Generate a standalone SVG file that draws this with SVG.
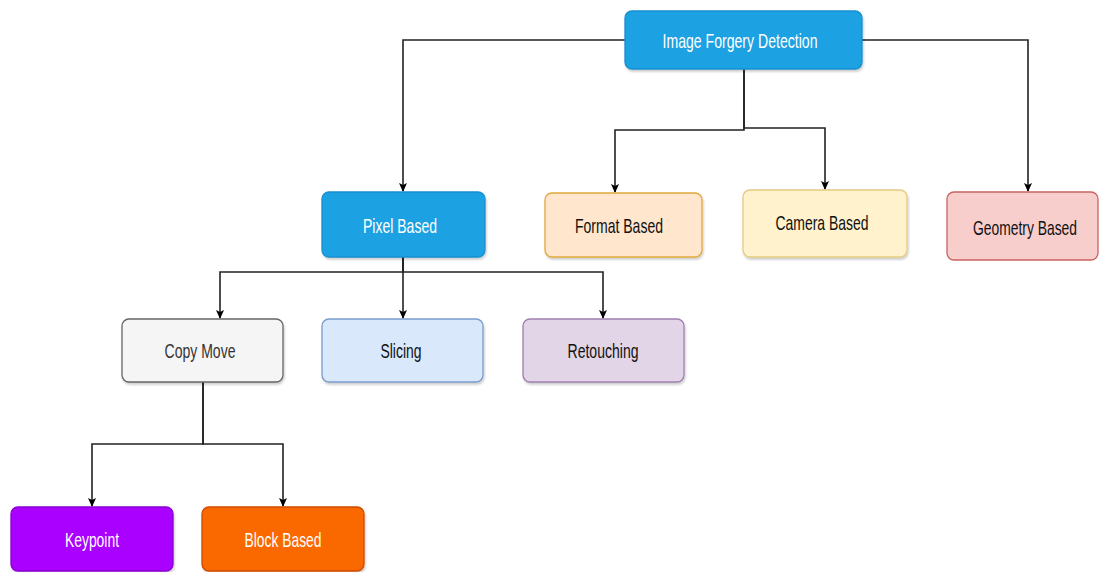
<svg xmlns="http://www.w3.org/2000/svg" width="1100" height="572" viewBox="0 0 1100 572">
<defs>
<marker id="arr" markerWidth="10" markerHeight="10" refX="8" refY="5" orient="auto" markerUnits="userSpaceOnUse">
<path d="M0,1 L9,5 L0,9 L2,5 Z" fill="#000"/>
</marker>
<filter id="sh" x="-10%" y="-10%" width="130%" height="140%">
<feDropShadow dx="1" dy="2" stdDeviation="1" flood-color="#000" flood-opacity="0.2"/>
</filter>
</defs>
<style>
.n rect{stroke-width:1.3;filter:url(#sh)}
.n text{font-family:"Liberation Sans",Arial,sans-serif;font-size:21px;text-anchor:middle}
.c path{fill:none;stroke:#222;stroke-width:1.6;marker-end:url(#arr)}
.w{fill:#fff}
.d{fill:#111}
</style>
<rect width="1100" height="572" fill="#fff"/>
<g class="c" id="connectors">
<path d="M625,40 H403 V191"/>
<path d="M862,40 H1028 V191"/>
<path d="M744,69 V130 H615 V192"/>
<path d="M744,69 V128 H825 V189"/>
<path d="M403,257 V272 H220 V318"/>
<path d="M403,257 V318"/>
<path d="M403,257 V272 H603 V318"/>
<path d="M203,382 V444 H92 V506"/>
<path d="M203,382 V444 H283 V506"/>
</g>
<g class="n" id="n-root"><rect x="625" y="11" width="237" height="58" rx="7" fill="#1BA1E2" stroke="#1A8FD0"/><text x="740" y="48" class="w" textLength="155" lengthAdjust="spacingAndGlyphs">Image Forgery Detection</text></g>
<g class="n" id="n-pixel"><rect x="322" y="192" width="163" height="65" rx="7" fill="#1BA1E2" stroke="#1A8FD0"/><text x="400" y="233" class="w" textLength="74" lengthAdjust="spacingAndGlyphs">Pixel Based</text></g>
<g class="n" id="n-format"><rect x="545" y="193" width="157" height="64" rx="7" fill="#FFE6CC" stroke="#E0A93A"/><text x="619" y="233" class="d" textLength="88" lengthAdjust="spacingAndGlyphs">Format Based</text></g>
<g class="n" id="n-camera"><rect x="743" y="190" width="164" height="67" rx="7" fill="#FFF2CC" stroke="#E4CC80"/><text x="822" y="230" class="d" textLength="93" lengthAdjust="spacingAndGlyphs">Camera Based</text></g>
<g class="n" id="n-geometry"><rect x="947" y="192" width="151" height="68" rx="7" fill="#F8CECC" stroke="#C86460" style="filter:none"/><text x="0" y="0" class="d" transform="translate(1025,235) scale(0.66,1)">Geometry Based</text></g>
<g class="n" id="n-copymove"><rect x="122" y="319" width="161" height="63" rx="7" fill="#F5F5F5" stroke="#666"/><text x="200" y="358" fill="#333" textLength="71" lengthAdjust="spacingAndGlyphs">Copy Move</text></g>
<g class="n" id="n-slicing"><rect x="322" y="319" width="161" height="63" rx="7" fill="#DAE8FC" stroke="#7A9CCB"/><text x="401" y="358" class="d" textLength="41" lengthAdjust="spacingAndGlyphs">Slicing</text></g>
<g class="n" id="n-retouching"><rect x="523" y="319" width="161" height="63" rx="7" fill="#E1D5E7" stroke="#9F7FB0"/><text x="603" y="358" class="d" textLength="71" lengthAdjust="spacingAndGlyphs">Retouching</text></g>
<g class="n" id="n-keypoint"><rect x="11" y="507" width="162" height="64" rx="7" fill="#AA00FF" stroke="#8A00D0"/><text x="92" y="547" class="w" textLength="54" lengthAdjust="spacingAndGlyphs">Keypoint</text></g>
<g class="n" id="n-block"><rect x="202" y="507" width="162" height="64" rx="7" fill="#FA6800" stroke="#D04A00"/><text x="283" y="547" class="w" textLength="77" lengthAdjust="spacingAndGlyphs">Block Based</text></g>
</svg>
